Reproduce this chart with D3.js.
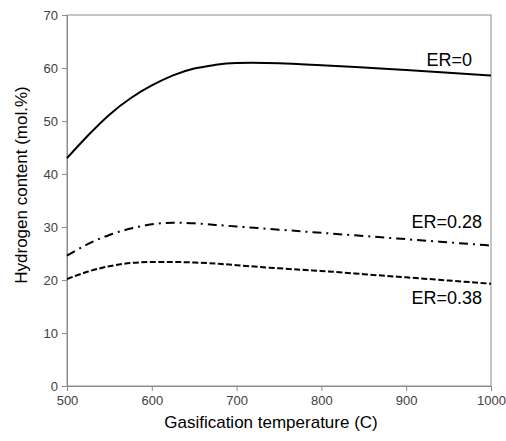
<!DOCTYPE html>
<html>
<head>
<meta charset="utf-8">
<script src="https://cdn.jsdelivr.net/npm/d3@7"></script>
<style>
  body { margin: 0; background: #fff; }
  text { font-family: "Liberation Sans", Arial, sans-serif; }
</style>
</head>
<body>
<svg id="chart"></svg>
<script>
var temps  = [500, 525, 550, 575, 600, 625, 650, 675, 700, 750, 800, 850, 900, 950, 1000];
var er0    = [43.0, 47.3, 51.2, 54.3, 56.7, 58.6, 59.9, 60.6, 60.95, 60.9, 60.5, 60.1, 59.6, 59.1, 58.6];
var er028  = [24.6, 26.8, 28.5, 29.7, 30.5, 30.8, 30.7, 30.4, 30.1, 29.5, 28.9, 28.3, 27.7, 27.1, 26.5];
var er038  = [20.2, 21.6, 22.6, 23.2, 23.4, 23.4, 23.3, 23.1, 22.8, 22.2, 21.7, 21.1, 20.5, 19.9, 19.3];
var seriesNames = ['ER=0', 'ER=0.28', 'ER=0.38'];
var xTicks = [500, 600, 700, 800, 900, 1000];
var yTicks = [0, 10, 20, 30, 40, 50, 60, 70];

var width = 506, height = 441;
var margin = {left: 67, right: 15, top: 15, bottom: 55};

var svg = d3.select('#chart')
  .attr('width', width)
  .attr('height', height);

var xScale = d3.scaleLinear()
  .domain([500, 1000])
  .range([margin.left, width - margin.right]);
var yScale = d3.scaleLinear()
  .domain([0, 70])
  .range([height - margin.bottom, margin.top]);

// frame round the plot area
svg.append('rect')
  .attr('x', margin.left)
  .attr('y', margin.top)
  .attr('width', width - margin.left - margin.right)
  .attr('height', height - margin.top - margin.bottom)
  .attr('fill', 'none')
  .attr('stroke', '#8c8c8c')
  .attr('stroke-width', 1);

var xAxis = d3.axisBottom(xScale)
  .tickValues(xTicks)
  .tickFormat(d3.format('d'))
  .tickSize(5)
  .tickSizeOuter(0)
  .tickPadding(5);
var yAxis = d3.axisLeft(yScale)
  .tickValues(yTicks)
  .tickFormat(d3.format('d'))
  .tickSize(5)
  .tickSizeOuter(0)
  .tickPadding(4);

var gx = svg.append('g')
  .attr('transform', 'translate(0,' + (height - margin.bottom) + ')')
  .call(xAxis);
var gy = svg.append('g')
  .attr('transform', 'translate(' + margin.left + ',0)')
  .call(yAxis);

[gx, gy].forEach(function(g){
  g.select('.domain').attr('stroke', '#8c8c8c');
  g.selectAll('.tick line').attr('stroke', '#8c8c8c');
  g.selectAll('.tick text')
    .attr('fill', '#404040')
    .style('font-size', '13px')
    .style('font-family', '"Liberation Sans", Arial, sans-serif');
});

var line = d3.line()
  .x(d => xScale(d[0]))
  .y(d => yScale(d[1]))
  .curve(d3.curveNatural);

var series = [
  {name: seriesNames[0], values: er0, dash: null},
  {name: seriesNames[1], values: er028, dash: '9,5,2,5'},
  {name: seriesNames[2], values: er038, dash: '6,2.5'}
];

series.forEach(function(s){
  svg.append('path')
    .datum(temps.map((t, i) => [t, s.values[i]]))
    .attr('d', line)
    .attr('fill', 'none')
    .attr('stroke', '#000')
    .attr('stroke-width', 2)
    .attr('stroke-dasharray', s.dash);
});

// series labels
var labelPos = [[472, 60.3], [482, 29.8], [482, 15.5]];
series.forEach(function(s, i){
  svg.append('text')
    .attr('x', labelPos[i][0])
    .attr('y', yScale(labelPos[i][1]))
    .attr('text-anchor', 'end')
    .style('font-size', '18px')
    .attr('fill', '#000')
    .text(s.name);
});

svg.append('text')
  .attr('x', 271)
  .attr('y', 428)
  .attr('text-anchor', 'middle')
  .style('font-size', '17px')
  .attr('fill', '#000')
  .text('Gasification temperature (C)');
svg.append('text')
  .attr('transform', 'rotate(-90)')
  .attr('x', -185)
  .attr('y', 27)
  .attr('text-anchor', 'middle')
  .style('font-size', '17px')
  .attr('fill', '#000')
  .text('Hydrogen content (mol.%)');
</script>
</body>
</html>
